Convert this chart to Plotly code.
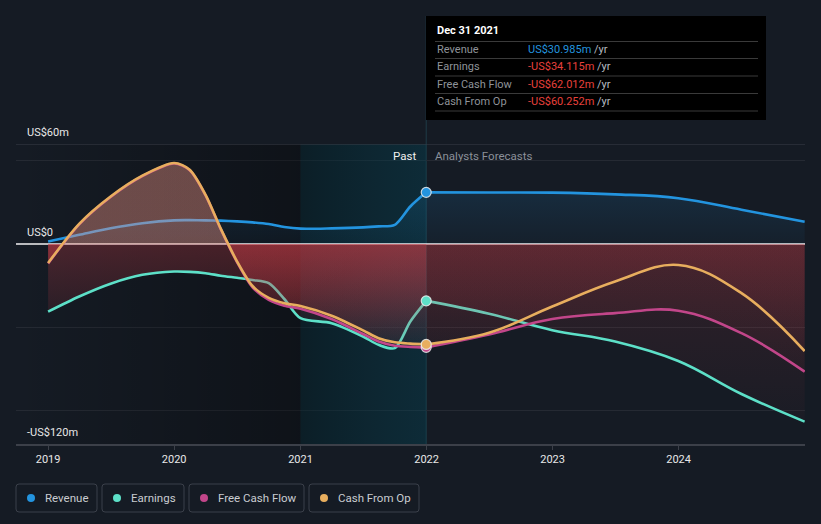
import plotly.graph_objects as go

# ---------------- data (US$ millions) ----------------
past_dates = ['2019-01-01', '2019-04-01', '2019-07-01', '2019-10-01', '2020-01-01',
              '2020-02-15', '2020-04-01', '2020-05-15', '2020-07-01', '2020-08-15',
              '2020-10-01', '2020-11-15', '2021-01-01', '2021-04-01', '2021-07-01',
              '2021-08-15', '2021-10-01', '2021-11-15', '2021-12-31']
revenue_past = [1.5, 5.5, 9.5, 12.5, 14.2, 14.3, 14.2, 14.0, 13.6, 13.0,
                12.0, 10.2, 9.2, 9.4, 10.0, 10.6, 11.5, 22.5, 30.985]
earnings_past = [-40.6, -31.5, -23.8, -18.5, -16.5, -16.7, -17.5, -19.0, -20.3, -21.6,
                 -23.5, -33.0, -44.5, -47.5, -55.5, -60.5, -62.5, -46.5, -34.115]
fcf_past = [-11.7, 11.8, 28.2, 40.7, 48.3, 44.3, 29.2, 8.9, -10.8, -26.0,
            -33.5, -37.0, -38.8, -45.0, -54.0, -58.5, -61.0, -61.7, -62.012]
cfo_past = [-11.4, 12.1, 28.5, 41.0, 48.6, 44.6, 29.5, 9.2, -10.4, -25.2,
            -32.3, -35.5, -37.2, -43.0, -51.8, -56.5, -59.0, -59.8, -60.252]

fc_dates = ['2021-12-31', '2022-07-01', '2022-12-31', '2023-07-01', '2023-12-31',
            '2024-07-01', '2024-12-31']
revenue_fc = [30.985, 30.9, 30.8, 29.8, 27.5, 20.6, 13.4]
earnings_fc = [-34.115, -41.8, -51.7, -58.5, -70.2, -90.0, -106.6]
fcf_fc = [-62.012, -54.3, -45.0, -41.5, -40.0, -53.5, -76.6]
cfo_fc = [-60.252, -53.3, -37.5, -22.5, -12.6, -29.5, -64.2]

series_names = ['Revenue', 'Earnings', 'Free Cash Flow', 'Cash From Op']
tick_years = ['2019', '2020', '2021', '2022', '2023', '2024']
y_labels = {'US$60m': 60, 'US$0': 0, '-US$120m': -120}
tooltip_title = 'Dec 31 2021'

x_range = ['2018-09-30', '2025-01-01']
y_range = [-120, 60]
past_zone_start = '2021-01-01'
now_date = '2021-12-31'

# ---------------- styling ----------------
W, H = 821, 524
L, R, T, B = 16, 16, 144, 80
PW, PH = W - L - R, H - T - B
BG = '#151b24'
FONT = 'Roboto, Arial, sans-serif'
COLORS = {'Revenue': '#2394df', 'Earnings': '#5de0c8',
          'Free Cash Flow': '#c2468a', 'Cash From Op': '#e8ae5e'}
SMOOTH_PAST, SMOOTH_FC = 0.8, 1.1


def px(x):
    return (x - L) / PW


def py(y):
    return (H - B - y) / PH


def neg_rgba(a):
    return f'rgba(200,60,70,{a})'


def fill_grad(vals, alpha, pos_color):
    lo = min(min(vals), 0)
    hi = max(max(vals), 0)
    if hi <= 0:
        cs = [[0, neg_rgba(0.03)], [1, neg_rgba(alpha)]]
    else:
        z = (0 - lo) / (hi - lo)
        cs = [[0, neg_rgba(0.03)], [z, neg_rgba(alpha)],
              [min(z + 0.002, 1), pos_color], [1, pos_color]]
    return dict(type='vertical', colorscale=cs, start=lo, stop=hi)


fig = go.Figure()

# background zones (darkened history, highlighted last year)
fig.add_trace(go.Scatter(
    x=[x_range[0], past_zone_start, past_zone_start, x_range[0], x_range[0]],
    y=[y_range[0], y_range[0], y_range[1], y_range[1], y_range[0]],
    fill='toself', mode='none', hoverinfo='skip', showlegend=False,
    fillgradient=dict(type='horizontal',
                      colorscale=[[0, 'rgba(0,0,0,0)'], [1, 'rgba(0,0,0,0.32)']])))
fig.add_trace(go.Scatter(
    x=[past_zone_start, now_date, now_date, past_zone_start, past_zone_start],
    y=[y_range[0], y_range[0], y_range[1], y_range[1], y_range[0]],
    fill='toself', mode='none', hoverinfo='skip', showlegend=False,
    fillgradient=dict(type='horizontal',
                      colorscale=[[0, 'rgba(0,34,42,0.45)'], [1, 'rgba(0,72,90,0.36)']])))

# zero line
fig.add_trace(go.Scatter(x=x_range, y=[0, 0], mode='lines', hoverinfo='skip',
                         showlegend=False, line=dict(color='#f2f2f2', width=1.5)))

# revenue
rev_grad = dict(type='vertical', colorscale=[[0, 'rgba(35,148,223,0.04)'],
                                             [1, 'rgba(35,148,223,0.14)']])
for xs, ys, sm in [(past_dates, revenue_past, SMOOTH_PAST), (fc_dates, revenue_fc, SMOOTH_FC)]:
    fig.add_trace(go.Scatter(x=xs, y=ys, mode='lines', fill='tozeroy',
                             fillgradient=rev_grad, hoverinfo='skip', showlegend=False,
                             line=dict(color=COLORS['Revenue'], width=2.6,
                                       shape='spline', smoothing=sm)))

POS = 'rgba(240,150,135,0.23)'
for name, past, fc in [('Earnings', earnings_past, earnings_fc),
                       ('Free Cash Flow', fcf_past, fcf_fc),
                       ('Cash From Op', cfo_past, cfo_fc)]:
    fig.add_trace(go.Scatter(x=past_dates, y=past, mode='lines', fill='tozeroy',
                             fillgradient=fill_grad(past, 0.3, POS),
                             hoverinfo='skip', showlegend=False,
                             line=dict(color=COLORS[name], width=2.6,
                                       shape='spline', smoothing=SMOOTH_PAST)))
    fig.add_trace(go.Scatter(x=fc_dates, y=fc, mode='lines', fill='tozeroy',
                             fillgradient=fill_grad(fc, 0.16, POS),
                             hoverinfo='skip', showlegend=False,
                             line=dict(color=COLORS[name], width=2.6,
                                       shape='spline', smoothing=SMOOTH_FC)))

# markers at the latest reported date
latest = {'Revenue': revenue_past[-1], 'Earnings': earnings_past[-1],
          'Free Cash Flow': fcf_past[-1], 'Cash From Op': cfo_past[-1]}
for name in series_names:
    fig.add_trace(go.Scatter(x=[past_dates[-1]], y=[latest[name]], mode='markers',
                             hoverinfo='skip', showlegend=False,
                             marker=dict(size=10, color=COLORS[name],
                                         line=dict(color='rgba(235,235,235,0.85)', width=1.2))))

shapes = []
annotations = []

# top line (60m) and vertical "now" line
shapes.append(dict(type='line', xref='paper', yref='y', x0=0, x1=1, y0=60, y1=60,
                   line=dict(color='#3a3f48', width=1), layer='above'))
shapes.append(dict(type='line', xref='x', yref='paper', x0=now_date, x1=now_date,
                   y0=0, y1=py(16), line=dict(color='#1f3a48', width=1), layer='below'))

# y labels
for txt, v in y_labels.items():
    annotations.append(dict(text=txt, xref='paper', yref='y', x=px(25), y=v,
                            xanchor='left', yanchor='middle', yshift=12, showarrow=False,
                            font=dict(family=FONT, size=11, color='#e8e8e8')))

# Past / Analysts Forecasts
annotations.append(dict(text='Past', xref='x', yref='paper', x=now_date, y=py(156),
                        xanchor='right', yanchor='middle', xshift=-8, showarrow=False,
                        font=dict(family=FONT, size=11.5, color='#f0f0f0')))
annotations.append(dict(text='Analysts Forecasts', xref='x', yref='paper', x=now_date,
                        y=py(156), xanchor='left', yanchor='middle', xshift=7,
                        showarrow=False, font=dict(family=FONT, size=11.5, color='#8b9099')))

# tooltip box
shapes.append(dict(type='rect', xref='paper', yref='paper', x0=px(426), x1=px(766),
                   y0=py(120), y1=py(16), fillcolor='#000000', line=dict(width=0),
                   layer='above'))
for yy in [41.5, 58.5, 76, 93.5, 111]:
    shapes.append(dict(type='line', xref='paper', yref='paper', x0=px(435), x1=px(758),
                       y0=py(yy), y1=py(yy), line=dict(color='#3a3a3a', width=1),
                       layer='above'))
annotations.append(dict(text=f'<b>{tooltip_title}</b>', xref='paper', yref='paper',
                        x=px(435), y=py(31), xanchor='left', yanchor='middle',
                        showarrow=False, font=dict(family=FONT, size=11, color='#ffffff')))


def fmt(v):
    s = f'US${abs(v):.3f}m'
    return ('-' + s) if v < 0 else s


for i, name in enumerate(series_names):
    yy = [49.5, 66.5, 84, 101][i]
    v = latest[name]
    vcol = '#2394df' if v >= 0 else '#e8413c'
    annotations.append(dict(text=name, xref='paper', yref='paper', x=px(435), y=py(yy),
                            xanchor='left', yanchor='middle', showarrow=False,
                            font=dict(family=FONT, size=11, color='#8f9399')))
    annotations.append(dict(text=f"<span style='color:{vcol}'>{fmt(v)}</span> /yr",
                            xref='paper', yref='paper', x=px(526), y=py(yy),
                            xanchor='left', yanchor='middle', showarrow=False,
                            font=dict(family=FONT, size=11, color='#b8bcc2')))

# legend boxes
boxes = [(16, 97), (102, 184), (189, 304), (309, 419)]
by0, by1 = 484, 512


def rounded(x0, y0, x1, y1, r):
    X = lambda v: px(v)
    Y = lambda v: py(v)
    return (f'M {X(x0 + r)},{Y(y0)} L {X(x1 - r)},{Y(y0)} Q {X(x1)},{Y(y0)} {X(x1)},{Y(y0 + r)} '
            f'L {X(x1)},{Y(y1 - r)} Q {X(x1)},{Y(y1)} {X(x1 - r)},{Y(y1)} '
            f'L {X(x0 + r)},{Y(y1)} Q {X(x0)},{Y(y1)} {X(x0)},{Y(y1 - r)} '
            f'L {X(x0)},{Y(y0 + r)} Q {X(x0)},{Y(y0)} {X(x0 + r)},{Y(y0)} Z')


for (x0, x1), name in zip(boxes, series_names):
    shapes.append(dict(type='path', xref='paper', yref='paper',
                       path=rounded(x0, by0, x1, by1, 3),
                       line=dict(color='#3b404a', width=1), fillcolor='rgba(0,0,0,0)'))
    cx, cy = x0 + 15, (by0 + by1) / 2
    shapes.append(dict(type='circle', xref='paper', yref='paper',
                       x0=px(cx - 4), x1=px(cx + 4), y0=py(cy + 4), y1=py(cy - 4),
                       fillcolor=COLORS[name], line=dict(width=0)))
    annotations.append(dict(text=name, xref='paper', yref='paper', x=px(x0 + 27), y=py(cy),
                            xanchor='left', yanchor='middle', showarrow=False,
                            font=dict(family=FONT, size=11.5, color='#c9ccd1')))

fig.update_layout(
    width=W, height=H, margin=dict(l=L, r=R, t=T, b=B),
    paper_bgcolor=BG, plot_bgcolor=BG, showlegend=False,
    shapes=shapes, annotations=annotations,
    font=dict(family=FONT, color='#e8e8e8'),
    xaxis=dict(type='date', range=x_range, showgrid=False, zeroline=False,
               tickvals=[f'{y}-01-01' for y in tick_years], ticktext=tick_years,
               ticks='outside', ticklen=4, tickcolor='#3c4049', showline=True,
               linecolor='#3c4049', linewidth=1.5,
               tickfont=dict(family=FONT, size=11, color='#e8e8e8'), fixedrange=True),
    yaxis=dict(range=y_range, tickvals=[-100, -50, 50], showticklabels=False,
               gridcolor='#252a33', gridwidth=1, zeroline=False, fixedrange=True),
)

fig.write_html('out.html', config={'displayModeBar': False},
               post_script="document.body.style.margin='0';"
                           "document.body.style.overflow='hidden';"
                           "document.body.style.background='#151b24';")
